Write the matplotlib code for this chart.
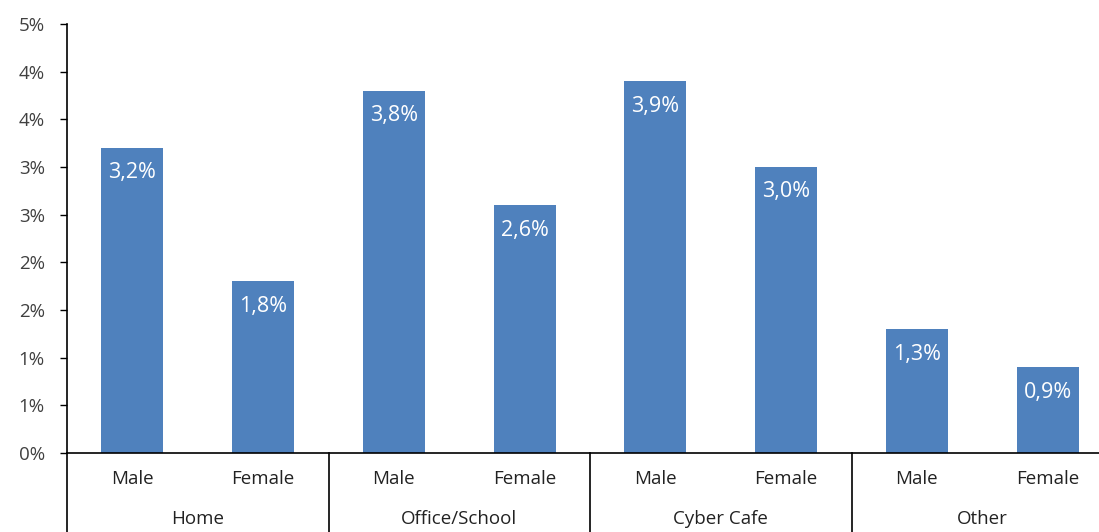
import matplotlib
matplotlib.use("Agg")
import matplotlib.pyplot as plt
from matplotlib.ticker import FuncFormatter
import matplotlib.transforms as mtransforms

groups = ["Home", "Office/School", "Cyber Cafe", "Other"]
genders = ["Male", "Female"]
values = [3.2, 1.8, 3.8, 2.6, 3.9, 3.0, 1.3, 0.9]  # percent
yticks = [0, 0.5, 1, 1.5, 2, 2.5, 3, 3.5, 4, 4.5]

barColor = "#4F81BD"
textColor = "#404040"

plt.rcParams['font.family'] = ['Open Sans', 'DejaVu Sans']

fig = plt.figure(figsize=(10.99, 5.32), dpi=100)
ax = fig.add_axes([67 / 1099, 79 / 532, 1046 / 1099, 429 / 532])

x = list(range(len(values)))
bars = ax.bar(x, values, width=0.475, color=barColor, zorder=2)

# data labels inside top of bars
for xi, v in zip(x, values):
    ax.annotate(("%.1f%%" % v).replace(".", ","), (xi, v), xytext=(0, -18),
                textcoords="offset points", ha="center", va="center",
                color="white", fontsize=15.5)

ax.set_xlim(-0.5, len(values) - 0.5)
ax.set_ylim(0, 4.5)
ax.set_yticks(yticks)
ax.yaxis.set_major_formatter(FuncFormatter(lambda v, p: "%d%%" % int(v + 0.5)))
ax.tick_params(axis="y", length=5, width=1, pad=11, labelsize=13.5, labelcolor=textColor)

ax.set_xticks(x)
ax.set_xticklabels(genders * len(groups))
ax.tick_params(axis="x", length=0, pad=12, labelsize=13.5, labelcolor="#222222")

for s in ["top", "right"]:
    ax.spines[s].set_visible(False)
ax.spines["left"].set_linewidth(1.2)
ax.spines["bottom"].set_linewidth(1.2)

# group separators and group labels
trans = mtransforms.blended_transform_factory(ax.transData, ax.transAxes)
bottom = -79 / 429
for i in range(len(groups) + 1):
    xs = -0.5 + 2 * i
    ax.plot([xs, xs], [0, bottom], color="black", lw=1.2, transform=trans, clip_on=False)
for i, g in enumerate(groups):
    ax.text(2 * i + 0.5, -66 / 429, g, transform=trans, ha="center", va="center",
            fontsize=13.5, color="#222222")

fig.savefig("out.png", dpi=100)
